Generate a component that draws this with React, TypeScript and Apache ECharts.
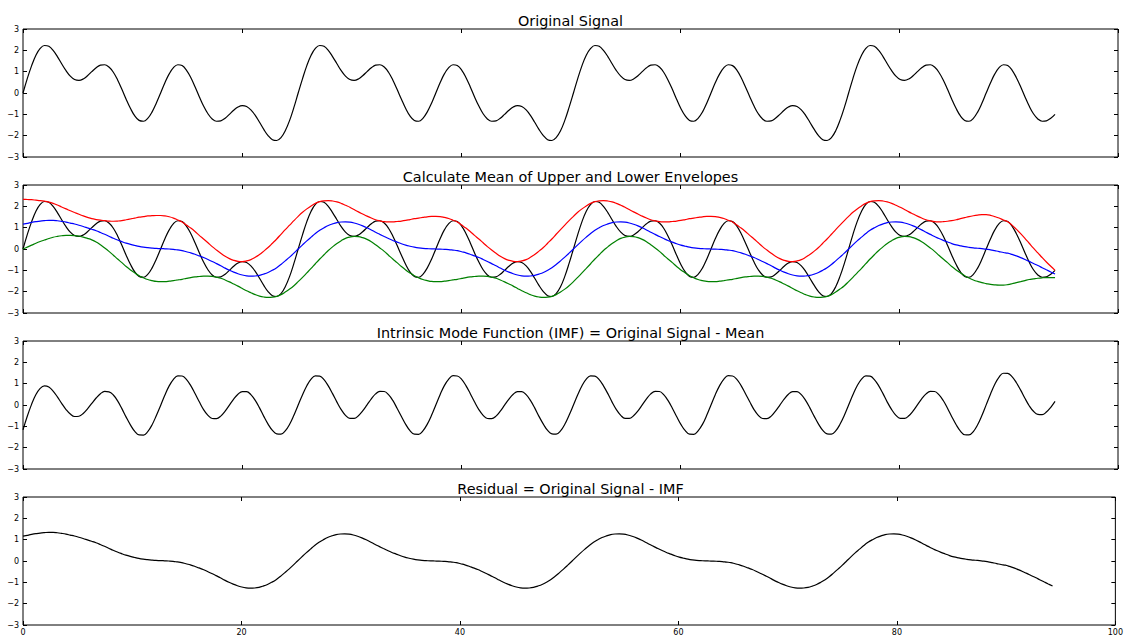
import React, { useEffect, useRef } from "react";
import * as echarts from "echarts";

// Sample positions (x) shared by every series
const xs = [
  0, 0.39, 0.79, 1.18, 1.57, 1.96, 2.36, 2.75, 3.14, 3.53, 3.93, 4.32, 4.71, 5.11, 5.5, 5.89,
  6.28, 6.68, 7.07, 7.46, 7.85, 8.25, 8.64, 9.03, 9.42, 9.82, 10.21, 10.6, 11.0, 11.39, 11.78, 12.17,
  12.57, 12.96, 13.35, 13.74, 14.14, 14.53, 14.92, 15.32, 15.71, 16.1, 16.49, 16.89, 17.28, 17.67, 18.06, 18.46,
  18.85, 19.24, 19.63, 20.03, 20.42, 20.81, 21.21, 21.6, 21.99, 22.38, 22.78, 23.17, 23.56, 23.95, 24.35, 24.74,
  25.13, 25.53, 25.92, 26.31, 26.7, 27.1, 27.49, 27.88, 28.27, 28.67, 29.06, 29.45, 29.85, 30.24, 30.63, 31.02,
  31.42, 31.81, 32.2, 32.59, 32.99, 33.38, 33.77, 34.16, 34.56, 34.95, 35.34, 35.74, 36.13, 36.52, 36.91, 37.31,
  37.7, 38.09, 38.48, 38.88, 39.27, 39.66, 40.06, 40.45, 40.84, 41.23, 41.63, 42.02, 42.41, 42.8, 43.2, 43.59,
  43.98, 44.38, 44.77, 45.16, 45.55, 45.95, 46.34, 46.73, 47.12, 47.52, 47.91, 48.3, 48.69, 49.09, 49.48, 49.87,
  50.27, 50.66, 51.05, 51.44, 51.84, 52.23, 52.62, 53.01, 53.41, 53.8, 54.19, 54.59, 54.98, 55.37, 55.76, 56.16,
  56.55, 56.94, 57.33, 57.73, 58.12, 58.51, 58.9, 59.3, 59.69, 60.08, 60.48, 60.87, 61.26, 61.65, 62.05, 62.44,
  62.83, 63.22, 63.62, 64.01, 64.4, 64.8, 65.19, 65.58, 65.97, 66.37, 66.76, 67.15, 67.54, 67.94, 68.33, 68.72,
  69.12, 69.51, 69.9, 70.29, 70.69, 71.08, 71.47, 71.86, 72.26, 72.65, 73.04, 73.43, 73.83, 74.22, 74.61, 75.01,
  75.4, 75.79, 76.18, 76.58, 76.97, 77.36, 77.75, 78.15, 78.54, 78.93, 79.33, 79.72, 80.11, 80.5, 80.9, 81.29,
  81.68, 82.07, 82.47, 82.86, 83.25, 83.64, 84.04, 84.43, 84.82, 85.22, 85.61, 86.0, 86.39, 86.79, 87.18, 87.57,
  87.96, 88.36, 88.75, 89.14, 89.54, 89.93, 90.32, 90.71, 91.11, 91.5, 91.89, 92.28, 92.68, 93.07, 93.46, 93.86,
  94.25,
];

// Original signal (black)
const originalSignal = [
  0, 0.676, 1.285, 1.77, 2.09, 2.227, 2.187, 1.998, 1.707, 1.371, 1.048, 0.79, 0.631, 0.589, 0.657, 0.808,
  1.0, 1.183, 1.305, 1.325, 1.217, 0.974, 0.614, 0.175, -0.293, -0.729, -1.075, -1.284, -1.324, -1.189, -0.895, -0.48,
  0, 0.48, 0.895, 1.189, 1.324, 1.284, 1.075, 0.729, 0.293, -0.175, -0.614, -0.974, -1.217, -1.325, -1.305, -1.183,
  -1.0, -0.808, -0.657, -0.589, -0.631, -0.79, -1.048, -1.371, -1.707, -1.998, -2.187, -2.227, -2.09, -1.77, -1.285, -0.676,
  0, 0.676, 1.285, 1.77, 2.09, 2.227, 2.187, 1.998, 1.707, 1.371, 1.048, 0.79, 0.631, 0.589, 0.657, 0.808,
  1.0, 1.183, 1.305, 1.325, 1.217, 0.974, 0.614, 0.175, -0.293, -0.729, -1.075, -1.284, -1.324, -1.189, -0.895, -0.48,
  0, 0.48, 0.895, 1.189, 1.324, 1.284, 1.075, 0.729, 0.293, -0.175, -0.614, -0.974, -1.217, -1.325, -1.305, -1.183,
  -1.0, -0.808, -0.657, -0.589, -0.631, -0.79, -1.048, -1.371, -1.707, -1.998, -2.187, -2.227, -2.09, -1.77, -1.285, -0.676,
  0, 0.676, 1.285, 1.77, 2.09, 2.227, 2.187, 1.998, 1.707, 1.371, 1.048, 0.79, 0.631, 0.589, 0.657, 0.808,
  1.0, 1.183, 1.305, 1.325, 1.217, 0.974, 0.614, 0.175, -0.293, -0.729, -1.075, -1.284, -1.324, -1.189, -0.895, -0.48,
  0, 0.48, 0.895, 1.189, 1.324, 1.284, 1.075, 0.729, 0.293, -0.175, -0.614, -0.974, -1.217, -1.325, -1.305, -1.183,
  -1.0, -0.808, -0.657, -0.589, -0.631, -0.79, -1.048, -1.371, -1.707, -1.998, -2.187, -2.227, -2.09, -1.77, -1.285, -0.676,
  0, 0.676, 1.285, 1.77, 2.09, 2.227, 2.187, 1.998, 1.707, 1.371, 1.048, 0.79, 0.631, 0.589, 0.657, 0.808,
  1.0, 1.183, 1.305, 1.325, 1.217, 0.974, 0.614, 0.175, -0.293, -0.729, -1.075, -1.284, -1.324, -1.189, -0.895, -0.48,
  0, 0.48, 0.895, 1.189, 1.324, 1.284, 1.075, 0.729, 0.293, -0.175, -0.614, -0.974, -1.217, -1.325, -1.305, -1.183,
  -1.0,
];

// Upper envelope (red)
const upperEnvelope = [
  2.33, 2.32, 2.31, 2.29, 2.27, 2.24, 2.2, 2.14, 2.06, 1.97, 1.88, 1.79, 1.71, 1.63, 1.55, 1.48,
  1.42, 1.38, 1.35, 1.33, 1.31, 1.3, 1.31, 1.33, 1.37, 1.41, 1.45, 1.49, 1.52, 1.55, 1.56, 1.57,
  1.57, 1.55, 1.51, 1.45, 1.36, 1.27, 1.12, 0.98, 0.82, 0.64, 0.47, 0.29, 0.11, -0.05, -0.2, -0.34,
  -0.45, -0.53, -0.58, -0.59, -0.56, -0.5, -0.39, -0.26, -0.1, 0.07, 0.27, 0.47, 0.69, 0.91, 1.12, 1.33,
  1.53, 1.72, 1.88, 2.02, 2.14, 2.22, 2.26, 2.27, 2.25, 2.21, 2.14, 2.05, 1.96, 1.85, 1.74, 1.64,
  1.54, 1.45, 1.37, 1.32, 1.28, 1.27, 1.27, 1.29, 1.31, 1.34, 1.38, 1.42, 1.45, 1.48, 1.51, 1.53,
  1.53, 1.52, 1.48, 1.43, 1.35, 1.27, 1.12, 0.98, 0.82, 0.64, 0.47, 0.29, 0.11, -0.05, -0.2, -0.34,
  -0.45, -0.53, -0.58, -0.59, -0.56, -0.5, -0.39, -0.26, -0.1, 0.07, 0.27, 0.47, 0.69, 0.91, 1.12, 1.33,
  1.53, 1.72, 1.88, 2.02, 2.14, 2.22, 2.26, 2.27, 2.25, 2.21, 2.14, 2.05, 1.96, 1.85, 1.74, 1.64,
  1.54, 1.45, 1.37, 1.32, 1.28, 1.27, 1.27, 1.29, 1.31, 1.34, 1.38, 1.42, 1.45, 1.48, 1.51, 1.53,
  1.53, 1.52, 1.48, 1.43, 1.35, 1.27, 1.12, 0.98, 0.82, 0.64, 0.47, 0.29, 0.11, -0.05, -0.2, -0.34,
  -0.45, -0.53, -0.58, -0.59, -0.56, -0.5, -0.39, -0.26, -0.1, 0.07, 0.27, 0.47, 0.69, 0.91, 1.12, 1.33,
  1.53, 1.72, 1.88, 2.02, 2.14, 2.22, 2.26, 2.27, 2.25, 2.21, 2.14, 2.05, 1.96, 1.85, 1.74, 1.64,
  1.54, 1.45, 1.37, 1.32, 1.28, 1.27, 1.28, 1.3, 1.33, 1.37, 1.42, 1.47, 1.52, 1.56, 1.59, 1.61,
  1.61, 1.58, 1.52, 1.45, 1.36, 1.28, 1.12, 0.93, 0.72, 0.5, 0.27, 0.04, -0.18, -0.4, -0.61, -0.81,
  -1.0,
];

// Lower envelope (green)
const lowerEnvelope = [
  0, 0.09, 0.18, 0.27, 0.35, 0.42, 0.49, 0.55, 0.59, 0.62, 0.64, 0.64, 0.63, 0.6, 0.56, 0.5,
  0.43, 0.33, 0.2, 0.05, -0.11, -0.29, -0.47, -0.64, -0.82, -0.98, -1.12, -1.25, -1.35, -1.43, -1.48, -1.52,
  -1.53, -1.53, -1.51, -1.48, -1.45, -1.42, -1.38, -1.34, -1.31, -1.29, -1.27, -1.27, -1.28, -1.32, -1.37, -1.45,
  -1.54, -1.64, -1.74, -1.85, -1.96, -2.05, -2.14, -2.21, -2.25, -2.27, -2.26, -2.22, -2.14, -2.02, -1.88, -1.72,
  -1.53, -1.33, -1.12, -0.91, -0.69, -0.47, -0.27, -0.07, 0.1, 0.26, 0.39, 0.5, 0.56, 0.59, 0.58, 0.53,
  0.45, 0.34, 0.2, 0.05, -0.11, -0.29, -0.47, -0.64, -0.82, -0.98, -1.12, -1.25, -1.35, -1.43, -1.48, -1.52,
  -1.53, -1.53, -1.51, -1.48, -1.45, -1.42, -1.38, -1.34, -1.31, -1.29, -1.27, -1.27, -1.28, -1.32, -1.37, -1.45,
  -1.54, -1.64, -1.74, -1.85, -1.96, -2.05, -2.14, -2.21, -2.25, -2.27, -2.26, -2.22, -2.14, -2.02, -1.88, -1.72,
  -1.53, -1.33, -1.12, -0.91, -0.69, -0.47, -0.27, -0.07, 0.1, 0.26, 0.39, 0.5, 0.56, 0.59, 0.58, 0.53,
  0.45, 0.34, 0.2, 0.05, -0.11, -0.29, -0.47, -0.64, -0.82, -0.98, -1.12, -1.25, -1.35, -1.43, -1.48, -1.52,
  -1.53, -1.53, -1.51, -1.48, -1.45, -1.42, -1.38, -1.34, -1.31, -1.29, -1.27, -1.27, -1.28, -1.32, -1.37, -1.45,
  -1.54, -1.64, -1.74, -1.85, -1.96, -2.05, -2.14, -2.21, -2.25, -2.27, -2.26, -2.22, -2.14, -2.02, -1.88, -1.72,
  -1.53, -1.33, -1.12, -0.91, -0.69, -0.47, -0.27, -0.07, 0.1, 0.26, 0.39, 0.5, 0.56, 0.59, 0.58, 0.53,
  0.45, 0.34, 0.2, 0.05, -0.11, -0.29, -0.47, -0.64, -0.82, -0.98, -1.12, -1.25, -1.36, -1.45, -1.52, -1.58,
  -1.62, -1.66, -1.68, -1.69, -1.69, -1.67, -1.63, -1.58, -1.53, -1.48, -1.43, -1.4, -1.37, -1.35, -1.34, -1.34,
  -1.34,
];

const panelTitles = [
  "Original Signal",
  "Calculate Mean of Upper and Lower Envelopes",
  "Intrinsic Mode Function (IMF) = Original Signal - Mean",
  "Residual = Original Signal - IMF",
];

const xTickValues = [0, 20, 40, 60, 80, 100];
const yTickValues = [-3, -2, -1, 0, 1, 2, 3];

// Derived tables
const meanEnvelope = upperEnvelope.map((u, i) => (u + lowerEnvelope[i]) / 2);
const imf = originalSignal.map((v, i) => v - meanEnvelope[i]);
const residual = originalSignal.map((v, i) => v - imf[i]);

const pairs = (vals: number[]) => xs.map((x, i) => [x, vals[i]]);

const FONT = "DejaVu Sans";
const PLOT_LEFT = 23;
const PLOT_WIDTH = 1095;
const PLOT_HEIGHT = 128;
const PLOT_TOPS = [29, 185, 341, 497];

export default function App() {
  const ref = useRef<HTMLDivElement>(null);

  useEffect(() => {
    if (!ref.current) return;
    const chart = echarts.init(ref.current, null, { renderer: "svg" });

    const xMin = xTickValues[0];
    const xMax = xTickValues[xTickValues.length - 1];
    const xInt = xTickValues[1] - xTickValues[0];
    const yMin = yTickValues[0];
    const yMax = yTickValues[yTickValues.length - 1];
    const yInt = yTickValues[1] - yTickValues[0];

    const grid = PLOT_TOPS.map((top) => ({
      left: PLOT_LEFT,
      top,
      width: PLOT_WIDTH,
      height: PLOT_HEIGHT,
      show: true,
      borderColor: "#000",
      borderWidth: 1,
      backgroundColor: "transparent",
    }));

    const tick = { show: true, inside: true, length: 4, lineStyle: { color: "#000", width: 1 } };

    const xAxis: any[] = [];
    const yAxis: any[] = [];
    PLOT_TOPS.forEach((_, i) => {
      xAxis.push({
        type: "value",
        gridIndex: i,
        min: xMin,
        max: xMax,
        interval: xInt,
        position: "bottom",
        axisLine: { show: false, onZero: false },
        axisTick: tick,
        splitLine: { show: false },
        axisLabel: {
          show: i === PLOT_TOPS.length - 1,
          fontSize: 8,
          color: "#000",
          fontFamily: FONT,
          margin: 3,
          showMinLabel: true,
          showMaxLabel: true,
        },
      });
    });
    PLOT_TOPS.forEach((_, i) => {
      xAxis.push({
        type: "value",
        gridIndex: i,
        min: xMin,
        max: xMax,
        interval: xInt,
        position: "top",
        axisLine: { show: false, onZero: false },
        axisTick: tick,
        splitLine: { show: false },
        axisLabel: { show: false },
      });
    });
    PLOT_TOPS.forEach((_, i) => {
      yAxis.push({
        type: "value",
        gridIndex: i,
        min: yMin,
        max: yMax,
        interval: yInt,
        position: "left",
        axisLine: { show: false, onZero: false },
        axisTick: tick,
        splitLine: { show: false },
        axisLabel: {
          fontSize: 8,
          color: "#000",
          fontFamily: FONT,
          margin: 4,
          showMinLabel: true,
          showMaxLabel: true,
          formatter: (v: number) => (v < 0 ? "\u2212" + Math.abs(v) : String(v)),
        },
      });
    });
    PLOT_TOPS.forEach((_, i) => {
      yAxis.push({
        type: "value",
        gridIndex: i,
        min: yMin,
        max: yMax,
        interval: yInt,
        position: "right",
        axisLine: { show: false, onZero: false },
        axisTick: tick,
        splitLine: { show: false },
        axisLabel: { show: false },
      });
    });

    const line = (name: string, vals: number[], color: string, gi: number) => ({
      name,
      type: "line",
      xAxisIndex: gi,
      yAxisIndex: gi,
      data: pairs(vals),
      showSymbol: false,
      symbol: "none",
      smooth: 0.4,
      lineStyle: { color, width: 1.2 },
      itemStyle: { color },
      silent: true,
    });

    const series = [
      line("Original Signal", originalSignal, "#000000", 0),
      line("Original Signal ", originalSignal, "#000000", 1),
      line("Upper Envelope", upperEnvelope, "#ff0000", 1),
      line("Lower Envelope", lowerEnvelope, "#008000", 1),
      line("Mean", meanEnvelope, "#0000ff", 1),
      line("IMF", imf, "#000000", 2),
      line("Residual", residual, "#000000", 3),
    ];

    const graphic = panelTitles.map((t, i) => ({
      type: "text",
      x: PLOT_LEFT + PLOT_WIDTH / 2,
      y: PLOT_TOPS[i] - 8,
      silent: true,
      style: {
        text: t,
        fontSize: 14.4,
        fontFamily: FONT,
        fill: "#000",
        align: "center",
        verticalAlign: "middle",
        textAlign: "center",
        textVerticalAlign: "middle",
      },
    }));

    chart.setOption({
      animation: false,
      backgroundColor: "#ffffff",
      grid,
      xAxis,
      yAxis,
      series,
      graphic,
    });

    return () => chart.dispose();
  }, []);

  return (
    <div
      ref={ref}
      style={{ position: "fixed", left: 0, top: 0, width: 1126, height: 637 }}
    />
  );
}
